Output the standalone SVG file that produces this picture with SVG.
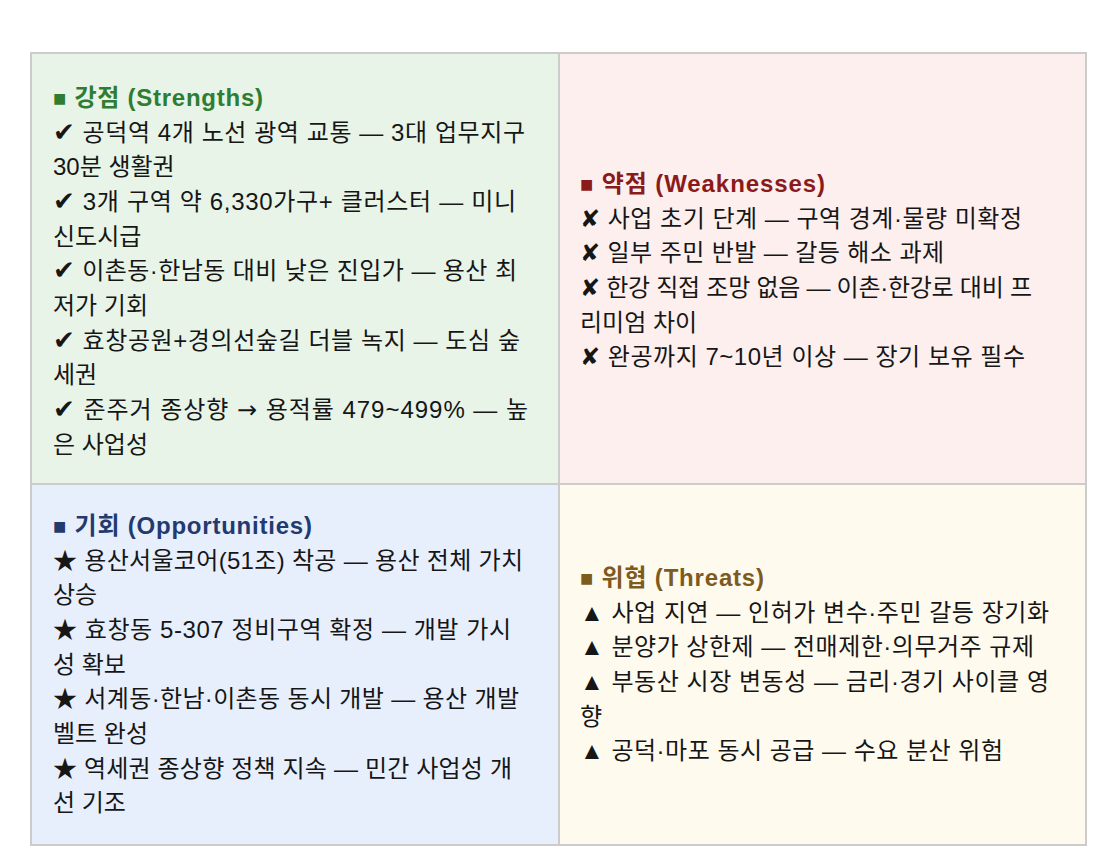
<svg xmlns="http://www.w3.org/2000/svg" width="1104" height="868" viewBox="0 0 1104 868">
<style>
.t{font-family:"Liberation Sans","Noto Sans CJK KR",sans-serif;font-size:24px;fill:#161616}
.h{font-weight:bold}
.sq{font-size:22px}
.g{fill:#2e7d32}.r{fill:#8b1a1a}.b{fill:#233a6e}.y{fill:#7d5a1e}
.sym{font-family:"DejaVu Sans","Noto Sans CJK KR",sans-serif;font-size:24px}
.ck{font-size:26px}
.grid{stroke:#cccccc;stroke-width:2;fill:none}
</style>
<rect width="1104" height="868" fill="#ffffff"/>
<g id="strengths">
<rect x="31" y="53" width="528" height="431" fill="#e8f4e8"/>
<text class="t h g" x="53" y="106" textLength="210"><tspan class="sq">■</tspan> 강점 (Strengths)</text>
<text class="t" x="53" y="140.7" textLength="472"><tspan class="sym ck">✔</tspan> 공덕역 4개 노선 광역 교통 — 3대 업무지구</text>
<text class="t" x="53" y="175.3">30분 생활권</text>
<text class="t" x="53" y="210" textLength="463"><tspan class="sym ck">✔</tspan> 3개 구역 약 6,330가구+ 클러스터 — 미니</text>
<text class="t" x="53" y="244.6">신도시급</text>
<text class="t" x="53" y="279.3" textLength="464"><tspan class="sym ck">✔</tspan> 이촌동·한남동 대비 낮은 진입가 — 용산 최</text>
<text class="t" x="53" y="313.9">저가 기회</text>
<text class="t" x="53" y="348.6" textLength="467"><tspan class="sym ck">✔</tspan> 효창공원+경의선숲길 더블 녹지 — 도심 숲</text>
<text class="t" x="53" y="383.2">세권</text>
<text class="t" x="53" y="417.9" textLength="475"><tspan class="sym ck">✔</tspan> 준주거 종상향 <tspan class="sym">→</tspan> 용적률 479~499% — 높</text>
<text class="t" x="53" y="452.5">은 사업성</text>
</g>
<g id="weaknesses">
<rect x="559" y="53" width="527" height="431" fill="#fcefee"/>
<text class="t h r" x="580" y="192" textLength="245"><tspan class="sq">■</tspan> 약점 (Weaknesses)</text>
<text class="t" x="580" y="226.7" textLength="442"><tspan class="sym">✘</tspan> 사업 초기 단계 — 구역 경계·물량 미확정</text>
<text class="t" x="580" y="261.3" textLength="364"><tspan class="sym">✘</tspan> 일부 주민 반발 — 갈등 해소 과제</text>
<text class="t" x="580" y="296" textLength="452"><tspan class="sym">✘</tspan> 한강 직접 조망 없음 — 이촌·한강로 대비 프</text>
<text class="t" x="580" y="330.6">리미엄 차이</text>
<text class="t" x="580" y="365.3" textLength="445"><tspan class="sym">✘</tspan> 완공까지 7~10년 이상 — 장기 보유 필수</text>
</g>
<g id="opportunities">
<rect x="31" y="484" width="528" height="361" fill="#e8effc"/>
<text class="t h b" x="53" y="534" textLength="259"><tspan class="sq">■</tspan> 기회 (Opportunities)</text>
<text class="t" x="53" y="568.7" textLength="470">★ 용산서울코어(51조) 착공 — 용산 전체 가치</text>
<text class="t" x="53" y="603.3">상승</text>
<text class="t" x="53" y="638" textLength="458">★ 효창동 5-307 정비구역 확정 — 개발 가시</text>
<text class="t" x="53" y="672.6">성 확보</text>
<text class="t" x="53" y="707.3" textLength="466">★ 서계동·한남·이촌동 동시 개발 — 용산 개발</text>
<text class="t" x="53" y="741.9">벨트 완성</text>
<text class="t" x="53" y="776.6" textLength="459">★ 역세권 종상향 정책 지속 — 민간 사업성 개</text>
<text class="t" x="53" y="811.2">선 기조</text>
</g>
<g id="threats">
<rect x="559" y="484" width="527" height="361" fill="#fffaee"/>
<text class="t h y" x="580" y="586" textLength="184"><tspan class="sq">■</tspan> 위협 (Threats)</text>
<text class="t" x="580" y="620.7" textLength="469">▲ 사업 지연 — 인허가 변수·주민 갈등 장기화</text>
<text class="t" x="580" y="655.3" textLength="454">▲ 분양가 상한제 — 전매제한·의무거주 규제</text>
<text class="t" x="580" y="690" textLength="469">▲ 부동산 시장 변동성 — 금리·경기 사이클 영</text>
<text class="t" x="580" y="724.6">향</text>
<text class="t" x="580" y="759.3" textLength="423">▲ 공덕·마포 동시 공급 — 수요 분산 위험</text>
</g>
<g id="connectors">
<rect class="grid" x="31" y="53" width="1055" height="792"/>
<line class="grid" x1="559" y1="53" x2="559" y2="845"/>
<line class="grid" x1="31" y1="484" x2="1086" y2="484"/>
</g>
</svg>
